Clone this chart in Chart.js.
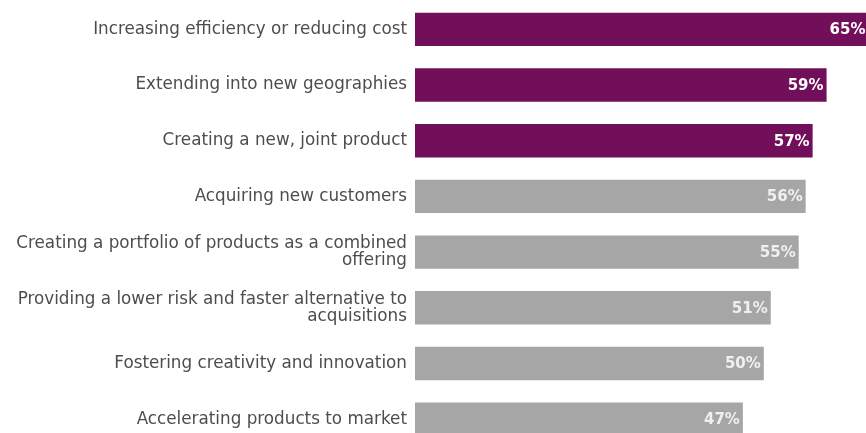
<!DOCTYPE html>
<html>
<head>
<meta charset="utf-8">
<script src="https://cdn.jsdelivr.net/npm/chart.js@4"></script>
<style>
html,body{margin:0;padding:0;background:#fff;overflow:hidden;}
#wrap{position:relative;width:866px;height:447px;}
</style>
</head>
<body>
<div id="wrap"><canvas id="c"></canvas></div>
<script>
const categories = [
  "Increasing efficiency or reducing cost",
  "Extending into new geographies",
  "Creating a new, joint product",
  "Acquiring new customers",
  ["Creating a portfolio of products as a combined", "offering"],
  ["Providing a lower risk and faster alternative to", "acquisitions"],
  "Fostering creativity and innovation",
  "Accelerating products to market"
];
const values = [65, 59, 57, 56, 55, 51, 50, 47];
const highlighted = [true, true, true, false, false, false, false, false];
const valueLabels = ["65%", "59%", "57%", "56%", "55%", "51%", "50%", "47%"];

const PURPLE = "#720f5a";
const GREY = "#a6a6a6";

const labelPlugin = {
  id: "barLabels",
  afterDatasetsDraw(chart) {
    const ctx = chart.ctx;
    const meta = chart.getDatasetMeta(0);
    ctx.save();
    ctx.font = "bold 15px 'DejaVu Sans'";
    ctx.textAlign = "right";
    ctx.textBaseline = "middle";
    meta.data.forEach((bar, i) => {
      ctx.fillStyle = highlighted[i] ? "#ffffff" : "#f0f0f0";
      ctx.fillText(valueLabels[i], bar.x - 3, bar.y + 1);
    });
    ctx.restore();
  }
};

new Chart(document.getElementById("c"), {
  type: "bar",
  data: {
    labels: categories,
    datasets: [{
      data: values,
      backgroundColor: highlighted.map(h => h ? PURPLE : GREY),
      borderWidth: 0,
      barPercentage: 1,
      categoryPercentage: 0.6
    }]
  },
  options: {
    indexAxis: "y",
    responsive: true,
    maintainAspectRatio: false,
    animation: false,
    devicePixelRatio: 1,
    layout: { padding: { top: 1.5, right: 0, bottom: 0, left: 0 } },
    plugins: { legend: { display: false }, tooltip: { enabled: false } },
    scales: {
      x: { display: false, min: 0, max: 64.65 },
      y: {
        grid: { display: false, drawTicks: false },
        border: { display: false },
        ticks: {
          padding: 8,
          color: "#4d4d4d",
          font: { family: "'DejaVu Sans'", size: 16.8, lineHeight: 1.0 },
          autoSkip: false
        },
        afterFit(axis) {
          axis.width = 415;
          axis.paddingTop = 0;
          axis.paddingBottom = 0;
        }
      }
    }
  },
  plugins: [labelPlugin]
});
</script>
</body>
</html>
